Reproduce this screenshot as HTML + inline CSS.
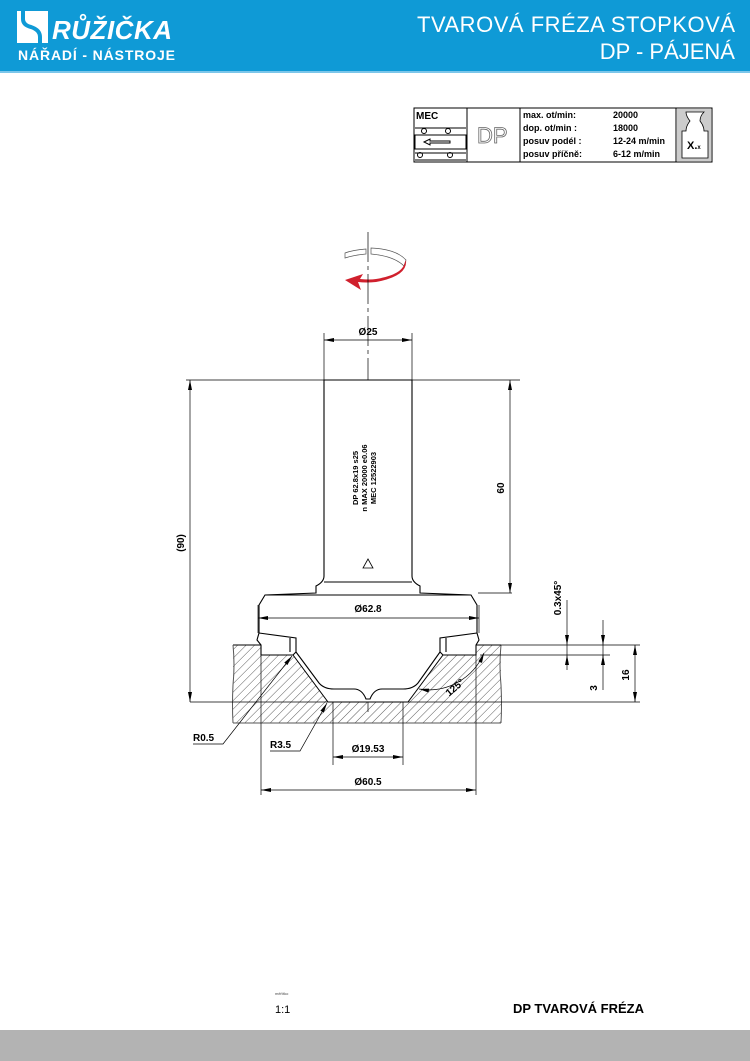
<!DOCTYPE html>
<html><head><meta charset="utf-8"><style>
html,body{margin:0;padding:0;background:#fff;}
body{width:750px;height:1061px;overflow:hidden;position:relative;font-family:"Liberation Sans",sans-serif;}
svg{position:absolute;left:0;top:0}
</style></head><body>
<svg width="750" height="1061" viewBox="0 0 750 1061" xmlns="http://www.w3.org/2000/svg" font-family="Liberation Sans, sans-serif">
<defs>
<pattern id="h" width="6" height="6" patternUnits="userSpaceOnUse" patternTransform="rotate(45)">
<line x1="0" y1="0" x2="0" y2="6" stroke="#333" stroke-width="0.8"/>
</pattern>
<marker id="a" viewBox="0 0 10 4" refX="10" refY="2" markerWidth="10" markerHeight="4" orient="auto-start-reverse" markerUnits="userSpaceOnUse"><path d="M0,0 L10,2 L0,4z" fill="#000"/></marker>
</defs>
<!-- header -->
<rect x="0" y="0" width="750" height="71" fill="#0f9ad6"/>
<rect x="0" y="71" width="750" height="2" fill="#7cc6ea"/>
<rect x="17" y="11" width="31" height="32" fill="#fff"/>
<path d="M23,11 v8 q0,6 8,8 q9,3 9,10 v6" fill="none" stroke="#0f9ad6" stroke-width="4"/>
<text x="52" y="39" font-size="26" font-weight="bold" font-style="italic" fill="#fff" textLength="120">RŮŽIČKA</text>
<text x="18" y="60" font-size="14" font-weight="bold" fill="#fff" textLength="157">NÁŘADÍ - NÁSTROJE</text>
<text x="735" y="32" font-size="22" fill="#fff" text-anchor="end" textLength="318">TVAROVÁ FRÉZA STOPKOVÁ</text>
<text x="735" y="59" font-size="22" fill="#fff" text-anchor="end">DP - PÁJENÁ</text>
<!-- info table -->
<g stroke="#000" stroke-width="1" fill="none">
<rect x="414" y="108" width="298" height="54"/>
<line x1="467" y1="108" x2="467" y2="162"/><line x1="520" y1="108" x2="520" y2="162"/><line x1="676" y1="108" x2="676" y2="162"/>
<rect x="415" y="135" width="51" height="14"/>
<circle cx="424" cy="131" r="2.5"/><circle cx="448" cy="131" r="2.5"/>
<circle cx="420" cy="155" r="2.5"/><circle cx="450" cy="155" r="2.5"/>
<line x1="415" y1="128" x2="466" y2="128"/><line x1="415" y1="153" x2="466" y2="153"/><line x1="415" y1="160" x2="466" y2="160"/>
<path d="M424,142 l6,-3 v2 h20 v2 h-20 v2z"/>
</g>
<text x="416" y="119" font-size="10" font-weight="bold">MEC</text>
<text x="477" y="143" font-size="22" fill="#fff" stroke="#666" stroke-width="0.8">DP</text>
<g font-size="9" font-weight="bold">
<text x="523" y="118">max. ot/min:</text><text x="613" y="118">20000</text>
<text x="523" y="131">dop. ot/min :</text><text x="613" y="131">18000</text>
<text x="523" y="144">posuv  podél :</text><text x="613" y="144">12-24  m/min</text>
<text x="523" y="157">posuv příčně:</text><text x="613" y="157">6-12 m/min</text>
</g>
<rect x="677" y="109" width="34" height="52" fill="#ccc"/>
<path d="M686,112 h18 q-4,4 -4,9 q4,5 4,10 h4 v27 h-26 v-27 h4 q0,-5 4,-10 q-4,-5 -4,-9z" fill="#fff" stroke="#000" stroke-width="0.8"/>
<text x="687" y="149" font-size="11" font-weight="bold">X.<tspan font-size="6">x</tspan></text>

<!-- rotation arrow -->
<g fill="#fff" stroke="#555" stroke-width="0.7">
<path d="M345,253 q8,-3 21,-4 v5 q-12,1 -21,4z"/>
<path d="M371,248 q25,1 35,12 l-2,6 q-10,-10 -33,-12z"/>
</g>
<path d="M406,260 q2,16 -30,22 q-10,1 -18,0 l3,8 l-16,-10 l18,-6 l-3,5 q10,1 16,0 q24,-4 28,-14z" fill="#d0202d"/>
<!-- centerline -->
<line x1="368" y1="232" x2="368" y2="712" stroke="#000" stroke-width="0.7" stroke-dasharray="30,4,4,4"/>

<!-- workpiece -->
<rect x="233" y="645" width="268" height="78" fill="url(#h)"/>
<path d="M261,645 L261,655 L293,655 L328,702 L408,702 L443,655 L476,655 L476,645z" fill="#fff"/>
<g stroke="#000" stroke-width="1" fill="none">
<path d="M233,645 L261,645 L261,655 L293,655 L328,702 L408,702 L443,655 L476,655 L476,645 L501,645"/>
<line x1="233" y1="723" x2="501" y2="723" stroke="#555"/>
<path d="M233,645 q2,20 0,40 q-1,20 0,38 M501,645 q-2,20 0,40 q1,20 0,38" stroke="#555"/>
</g>
<!-- cutter -->
<g stroke="#000" stroke-width="1.1" fill="#fff">
<path d="M324,380 L412,380 L412,576 q0,6 8,10 L420,593 L471,595 L477,605 L477,633 L479,640 L476,645 L476,655 L443,655 L440,652 L418,683 q-5,6 -15,6 L382,689 q-8,0 -12,10 L366,699 q-4,-10 -12,-10 L334,689 q-10,0 -15,-6 L296,652 L293,655 L261,655 L261,645 L257,640 L259,633 L259,605 L265,595 L316,593 L316,586 q8,-4 8,-10z"/>
<path d="M259,633 L296,638 L296,652 M477,633 L440,638 L440,652" fill="none"/>
<path d="M290,638 v14 M446,638 v14" fill="none"/>
<line x1="324" y1="582" x2="412" y2="582"/>
<line x1="265" y1="595" x2="471" y2="595"/>
<path d="M363,568 l5,-9 l5,9z" fill="none" stroke-width="0.8"/>
</g>
<text transform="translate(358,478) rotate(-90)" font-size="7.5" font-weight="bold" text-anchor="middle">DP 62.8x19  s25</text>
<text transform="translate(367,478) rotate(-90)" font-size="7.5" font-weight="bold" text-anchor="middle">n MAX 20000 e0.06</text>
<text transform="translate(376,478) rotate(-90)" font-size="7.5" font-weight="bold" text-anchor="middle">MEC  12522903</text>

<!-- dimension lines -->
<g stroke="#000" stroke-width="0.7" fill="none">
<line x1="186" y1="380" x2="520" y2="380"/>
<line x1="190" y1="702" x2="640" y2="702"/>
<line x1="324" y1="333" x2="324" y2="380"/><line x1="412" y1="333" x2="412" y2="380"/>
<line x1="324" y1="340" x2="412" y2="340" marker-start="url(#a)" marker-end="url(#a)"/>
<line x1="190" y1="380" x2="190" y2="702" marker-start="url(#a)" marker-end="url(#a)"/>
<line x1="510" y1="380" x2="510" y2="593" marker-start="url(#a)" marker-end="url(#a)"/>
<line x1="478" y1="593" x2="512" y2="593"/>
<line x1="258" y1="605" x2="258" y2="633"/><line x1="479" y1="605" x2="479" y2="633"/>
<line x1="258" y1="618" x2="479" y2="618" marker-start="url(#a)" marker-end="url(#a)"/>
<line x1="480" y1="645" x2="640" y2="645"/><line x1="480" y1="655" x2="610" y2="655"/>
<line x1="567" y1="600" x2="567" y2="645" marker-end="url(#a)"/>
<line x1="567" y1="670" x2="567" y2="655" marker-end="url(#a)"/>
<line x1="567" y1="645" x2="567" y2="655"/>
<line x1="603" y1="620" x2="603" y2="645" marker-end="url(#a)"/>
<line x1="603" y1="665" x2="603" y2="655" marker-end="url(#a)"/>
<line x1="603" y1="645" x2="603" y2="690"/>
<line x1="635" y1="645" x2="635" y2="702" marker-start="url(#a)" marker-end="url(#a)"/>
<line x1="261" y1="655" x2="261" y2="795"/><line x1="476" y1="655" x2="476" y2="795"/>
<line x1="333" y1="702" x2="333" y2="765"/><line x1="403" y1="702" x2="403" y2="765"/>
<line x1="333" y1="757" x2="403" y2="757" marker-start="url(#a)" marker-end="url(#a)"/>
<line x1="261" y1="790" x2="476" y2="790" marker-start="url(#a)" marker-end="url(#a)"/>
<polyline points="193,744 223,744 292,656" marker-end="url(#a)"/>
<polyline points="270,751 300,751 327,703" marker-end="url(#a)"/>
<path d="M419,689 A60,60 0 0 0 484,653" marker-start="url(#a)" marker-end="url(#a)"/>
</g>
<g font-size="10" font-weight="bold">
<text x="368" y="335" text-anchor="middle">Ø25</text>
<text x="368" y="612" text-anchor="middle">Ø62.8</text>
<text transform="translate(184,543) rotate(-90)" text-anchor="middle">(90)</text>
<text transform="translate(504,488) rotate(-90)" text-anchor="middle">60</text>
<text transform="translate(561,598) rotate(-90)" text-anchor="middle">0.3x45°</text>
<text transform="translate(597,688) rotate(-90)" text-anchor="middle">3</text>
<text transform="translate(629,675) rotate(-90)" text-anchor="middle">16</text>
<text transform="translate(457,690) rotate(-40)" text-anchor="middle">125°</text>
<text x="193" y="741">R0.5</text>
<text x="270" y="748">R3.5</text>
<text x="368" y="752" text-anchor="middle">Ø19.53</text>
<text x="368" y="785" text-anchor="middle">Ø60.5</text>
</g>
<!-- footer -->
<text x="275" y="995" font-size="4" fill="#444">měřítko</text>
<text x="275" y="1013" font-size="11">1:1</text>
<text x="513" y="1013" font-size="13" font-weight="bold">DP TVAROVÁ FRÉZA</text>
<rect x="0" y="1030" width="750" height="31" fill="#b3b3b3"/>
</svg>
</body></html>
